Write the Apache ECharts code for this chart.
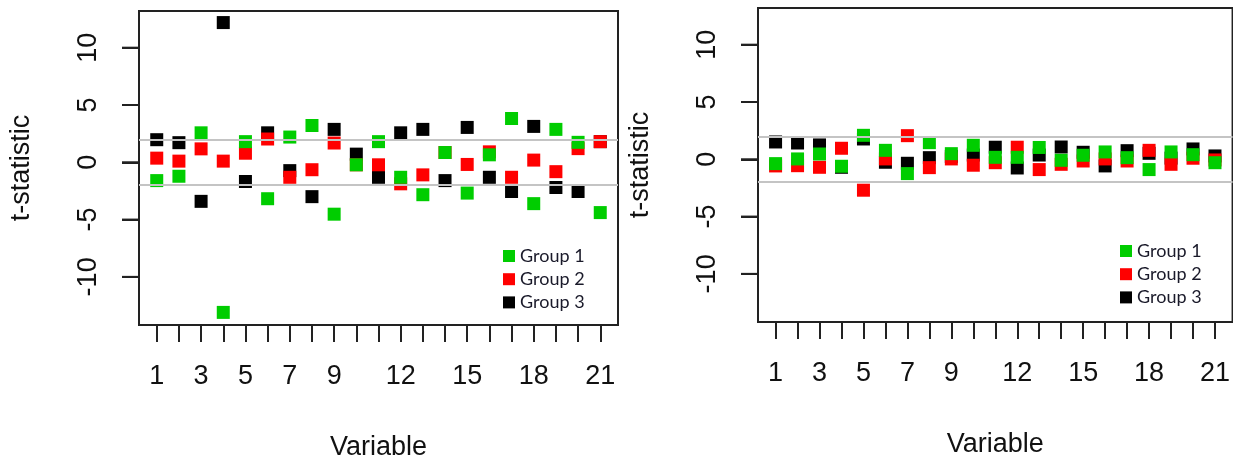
<!DOCTYPE html>
<html>
<head>
<meta charset="utf-8">
<script src="https://cdn.jsdelivr.net/npm/echarts@6/dist/echarts.min.js"></script>
<style>html,body{margin:0;padding:0;background:#fff;}#c{width:1233px;height:466px;}</style>
</head>
<body>
<div id="c"></div>
<script>
// Variables (x positions)
const variables = [1,2,3,4,5,6,7,8,9,10,11,12,13,14,15,16,17,18,19,20,21];
const xTickLabels = [1,3,5,7,9,12,15,18,21];
const yTickValues = [-10,-5,0,5,10];
const groupNames = ['Group 1','Group 2','Group 3'];
const criticalLines = [1.96, -1.96];

// Left panel t-statistics
const leftGroup1 = [-1.6, -1.22, 2.57, -13.1, 1.8, -3.18, 2.2, 3.21, -4.53, -0.22, 1.8, -1.31, -2.83, 0.85, -2.69, 0.65, 3.82, -3.61, 2.87, 1.74, -4.39];
const leftGroup2 = [0.36, 0.1, 1.17, 0.1, 0.79, 2.03, -1.31, -0.65, 1.68, -0.22, -0.22, -1.88, -1.1, 0.85, -0.19, 0.91, -1.31, 0.19, -0.82, 1.19, 1.8];
const leftGroup3 = [1.97, 1.71, -3.41, 12.19, -1.68, 2.57, -0.73, -3.0, 2.87, 0.71, -1.31, 2.57, 2.87, -1.6, 3.04, -1.31, -2.55, 3.13, -2.2, -2.55, 1.8];

// Right panel t-statistics
const rightGroup1 = [-0.38, 0.03, 0.46, -0.61, 2.09, 0.78, -1.25, 1.45, 0.49, 1.22, 0.17, 0.17, 1.03, -0.09, 0.35, 0.64, 0.14, -0.9, 0.64, 0.4, -0.3];
const rightGroup2 = [-0.58, -0.56, -0.7, 0.96, -2.7, 0.03, 2.06, -0.73, 0.03, -0.52, -0.3, 1.05, -0.9, -0.44, -0.15, 0.03, -0.15, 0.78, -0.44, 0.09, -0.06];
const rightGroup3 = [1.51, 1.42, 1.25, -0.7, 1.77, -0.26, -0.35, 0.14, 0.25, 0.37, 1.05, -0.76, 0.37, 1.07, 0.61, -0.58, 0.75, 0.52, 0.1, 0.9, 0.29];

const colors = {'Group 1':'#00cd00','Group 2':'#ff0000','Group 3':'#000000'};
const FONT = 'Liberation Sans, Arial, sans-serif';
const AX = '#222';
const TICK_COLOR = 'rgb(34,34,34)';
const TICK_LEN = 17;

function pairs(vals){ return variables.map((v,i)=>[v, vals[i]]); }

function xAxisCfg(idx){
  return {
    gridIndex: idx, type: 'value', min: 0.2, max: 21.8, position: 'bottom',
    name: 'Variable', nameLocation: 'middle', nameGap: 109,
    nameTextStyle: {fontFamily: FONT, fontSize: 27, color: '#111', verticalAlign: 'top'},
    axisLine: {show: true, onZero: false, lineStyle: {color: AX, width: 2}},
    axisTick: {show: true, length: TICK_LEN, customValues: variables, lineStyle: {color: AX, width: 2}},
    axisLabel: {show: true, customValues: xTickLabels, margin: 38, fontFamily: FONT, fontSize: 27, color: '#111'},
    splitLine: {show: false}
  };
}
function yAxisCfg(idx){
  return {
    gridIndex: idx, type: 'value', min: -14.2, max: 13.2, position: 'left',
    name: 't-statistic', nameLocation: 'middle', nameGap: 104, nameRotate: 90,
    nameTextStyle: {fontFamily: FONT, fontSize: 27, color: '#111'},
    axisLine: {show: true, onZero: false, lineStyle: {color: AX, width: 2}},
    axisTick: {show: true, inside: false, length: TICK_LEN, customValues: yTickValues, lineStyle: {color: AX, width: 2}},
    axisLabel: {show: true, customValues: yTickValues, rotate: 90, margin: 37, fontFamily: FONT, fontSize: 27, color: '#111'},
    splitLine: {show: false}
  };
}
// y-axis tick marks drawn through the axis scale (custom series, outside the plot box)
function yTickSeries(idx){
  return {
    type: 'custom', name: 'yticks' + idx, xAxisIndex: idx, yAxisIndex: idx,
    clip: false,
    encode: {x: 0, y: 1},
    data: yTickValues.map(v => [variables[0], v]),
    renderItem: function(params, api){
      const p = api.coord([api.value(0), api.value(1)]);
      const x0 = params.coordSys.x;
      return {type: 'rect', shape: {x: x0 - TICK_LEN, y: p[1] - 1, width: TICK_LEN, height: 2},
              style: {fill: TICK_COLOR, stroke: null}};
    }
  };
}
function seriesFor(idx, g1, g2, g3){
  const order = [['Group 3', g3], ['Group 2', g2], ['Group 1', g1]];
  return order.map(([name, vals], k) => {
    const s = {
      name, type: 'scatter', xAxisIndex: idx, yAxisIndex: idx,
      symbol: 'rect', symbolSize: [13, 13],
      itemStyle: {color: colors[name], opacity: 1},
      data: pairs(vals), z: 2 + k
    };
    if (name === 'Group 1') {
      s.markLine = {
        silent: true, symbol: 'none', label: {show: false},
        lineStyle: {type: 'solid', color: '#c4c4c4', width: 2},
        data: criticalLines.map(v => ({yAxis: v}))
      };
    }
    return s;
  });
}
function legendCfg(left, top){
  return {
    data: groupNames, orient: 'vertical', left, top,
    icon: 'rect', itemWidth: 12, itemHeight: 12, itemGap: 5.2,
    textStyle: {fontFamily: 'Lato, Open Sans, sans-serif', fontSize: 18, color: '#1a1a2a'},
    selectedMode: false, padding: 0
  };
}

const chart = echarts.init(document.getElementById('c'), null, {renderer: 'canvas'});
chart.setOption({
  animation: false,
  backgroundColor: '#fff',
  grid: [
    {left: 139, top: 11, right: 615, bottom: 138, show: true, borderColor: AX, borderWidth: 2, backgroundColor: 'transparent'},
    {left: 758, top: 8, right: -2, bottom: 144, show: true, borderColor: AX, borderWidth: 2, backgroundColor: 'transparent'}
  ],
  legend: [legendCfg(503, 247), legendCfg(1120, 242)],
  xAxis: [xAxisCfg(0), xAxisCfg(1)],
  yAxis: [yAxisCfg(0), yAxisCfg(1)],
  series: [
    yTickSeries(0), yTickSeries(1),
    ...seriesFor(0, leftGroup1, leftGroup2, leftGroup3),
    ...seriesFor(1, rightGroup1, rightGroup2, rightGroup3)
  ]
});
</script>
</body>
</html>
